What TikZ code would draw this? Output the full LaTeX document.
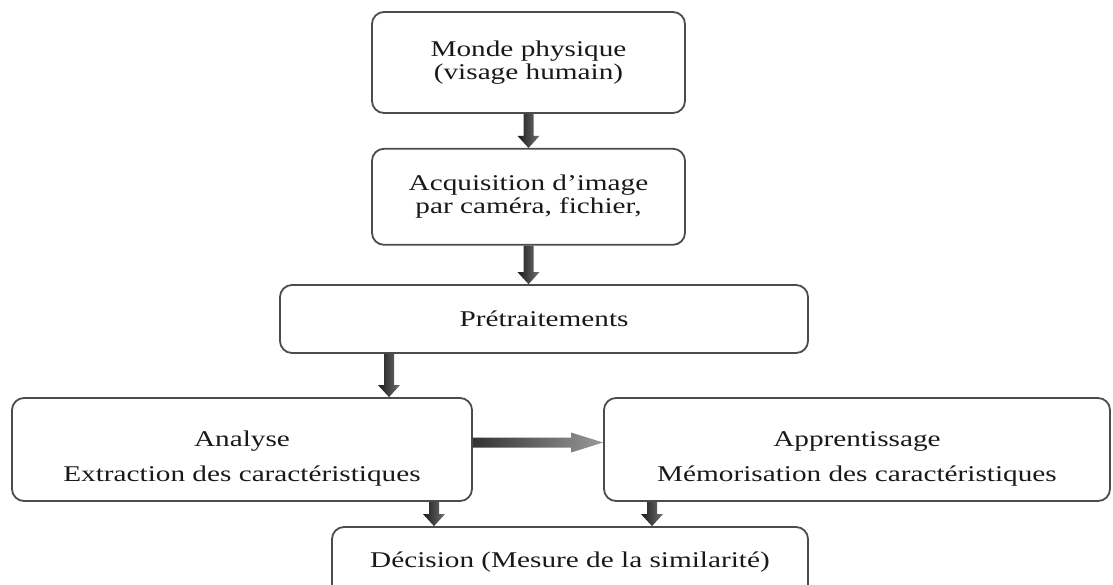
\documentclass[tikz,border=0pt]{standalone}
\usepackage{fontspec}
\setmainfont{Liberation Serif}[FakeStretch=1.3]
\usepackage{tikz}
\usetikzlibrary{calc,positioning}

\begin{document}
\begin{tikzpicture}[
  x=1pt, y=1pt,
  font=\fontsize{22.5}{23}\selectfont,
  box/.style={
    draw=black!70,
    rounded corners=12pt,
    align=center,
    inner sep=0pt,
    line width=1.8pt,
    text=black!90
  },
  downarrow/.style={
    shade, left color=black!90, right color=black!55,
    to path={
      ($(\tikztostart)+(-5,0)$) -- ($(\tikztostart)+(5,0)$) --
      ($(\tikztotarget)+(5,12)$) -- ($(\tikztotarget)+(11,12)$) --
      (\tikztotarget) -- ($(\tikztotarget)+(-11,12)$) --
      ($(\tikztotarget)+(-5,12)$) -- cycle}
  },
  rightarrow/.style={
    shade, left color=black!80, right color=black!40,
    to path={
      ($(\tikztostart)+(0,5)$) -- ($(\tikztotarget)+(-32,5)$) --
      ($(\tikztotarget)+(-32,10)$) -- (\tikztotarget) --
      ($(\tikztotarget)+(-32,-10)$) -- ($(\tikztotarget)+(-32,-5)$) --
      ($(\tikztostart)+(0,-5)$) -- cycle}
  }
]
  \path[use as bounding box, clip] (0,0) rectangle (1113,-584);

  \node[box, minimum width=313pt, minimum height=101pt] (phys) at (528.5,-62.5) {Monde physique\\(visage humain)};
  \node[box, minimum width=313pt, minimum height=96pt, below=34pt of phys] (acq) {Acquisition d'image\\par caméra, fichier,};
  \node[box, minimum width=528pt, minimum height=68pt] (pre) at (544,-319) {Prétraitements};
  \node[box, minimum width=460pt, minimum height=103pt] (ana) at (242,-449.5) {\mbox{}\\[11pt]Analyse\\[12pt]Extraction des caractéristiques};
  \node[box, minimum width=506pt, minimum height=103pt] (app) at (857,-449.5) {\mbox{}\\[11pt]Apprentissage\\[12pt]Mémorisation des caractéristiques};
  \node[box, minimum width=476pt, minimum height=70pt] (dec) at (570,-562) {Décision (Mesure de la similarité)};

  \coordinate (a3) at ([xshift=-155pt]pre.south);
  \coordinate (a4) at ([xshift=192pt]ana.south);
  \coordinate (a5) at ([xshift=-205pt]app.south);
  \coordinate (h1) at ([yshift=7pt]ana.east);

  \path[downarrow] (phys.south) to (acq.north);
  \path[downarrow] (acq.south) to (acq.south |- pre.north);
  \path[downarrow] (a3) to (a3 |- ana.north);
  \path[downarrow] (a4) to (a4 |- dec.north);
  \path[downarrow] (a5) to (a5 |- dec.north);
  \path[rightarrow] (h1) to (h1 -| app.west);
\end{tikzpicture}
\end{document}
